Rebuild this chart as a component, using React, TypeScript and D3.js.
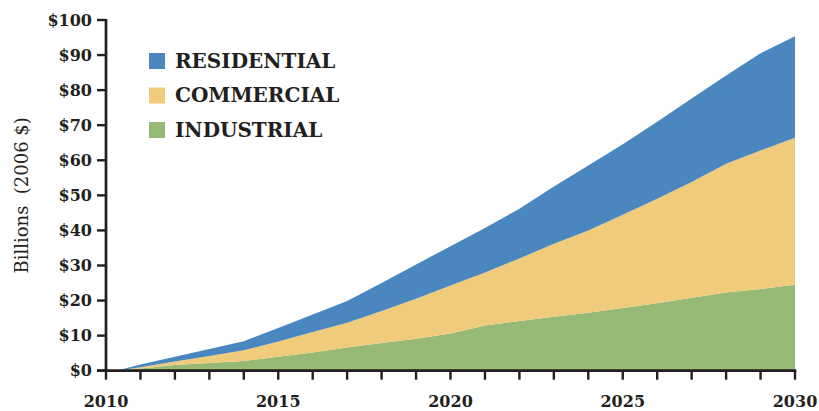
import * as d3 from 'd3';
import { useEffect } from 'react';

// Years along the x axis (the curves start a little after 2010)
const years = [2010.3, 2011, 2012, 2013, 2014, 2015, 2016, 2017, 2018, 2019, 2020, 2021, 2022, 2023, 2024, 2025, 2026, 2027, 2028, 2029, 2030];

// Billions (2006 $)
const industrial = [0, 0.6, 1.6, 2.2, 2.8, 4.0, 5.2, 6.6, 7.9, 9.1, 10.6, 12.9, 14.2, 15.4, 16.5, 17.9, 19.2, 20.8, 22.3, 23.3, 24.5];
const commercial = [0, 0.4, 1.0, 2.0, 3.0, 4.3, 5.8, 7.1, 9.1, 11.4, 13.7, 15.1, 17.8, 20.8, 23.5, 26.6, 29.8, 33.0, 36.7, 39.5, 41.9];
const residential = [0, 0.8, 1.4, 2.0, 2.6, 3.9, 5.0, 6.2, 8.0, 9.8, 11.2, 12.7, 14.2, 16.3, 18.5, 20.1, 22.0, 23.8, 25.2, 27.7, 29.0];

const seriesKeys = ['industrial', 'commercial', 'residential'];
const legendLabels = ['RESIDENTIAL', 'COMMERCIAL', 'INDUSTRIAL'];
const yTicks = [0, 10, 20, 30, 40, 50, 60, 70, 80, 90, 100];
const xLabelTicks = [2010, 2015, 2020, 2025, 2030];

const colors: Record<string, string> = {
  residential: '#4a87be',
  commercial: '#f0cb7b',
  industrial: '#96b976',
};

const W = 819;
const H = 411;
const margin = { left: 106, right: 24, top: 20, bottom: 40 };
const ink = '#231f20';
const serif = "'DejaVu Serif', serif";

export default function App() {
  useEffect(() => {
    document.body.style.margin = '0';
  }, []);

  const x = d3.scaleLinear().domain([2010, 2030]).range([margin.left, W - margin.right]);
  const y = d3.scaleLinear().domain([0, 100]).range([H - margin.bottom - 0.3, margin.top]);

  const rows = years.map((yr, i) => ({
    year: yr,
    industrial: industrial[i],
    commercial: commercial[i],
    residential: residential[i],
  }));
  const stacked = d3.stack<any>().keys(seriesKeys)(rows);
  const area = d3
    .area<any>()
    .x((d) => x(d.data.year))
    .y0((d) => y(d[0]))
    .y1((d) => y(d[1]))
    .curve(d3.curveLinear);

  const allYears = d3.range(2010, 2031);
  const y0 = y(0);

  return (
    <svg width={W} height={H} style={{ display: 'block' }}>
      {stacked.map((s) => (
        <path key={s.key} d={area(s) ?? ''} fill={colors[s.key]} />
      ))}

      {/* y axis */}
      <line x1={x(2010)} x2={x(2010)} y1={y(100) - 1} y2={y0 + 1.3} stroke={ink} strokeWidth={2.7} />
      {yTicks.map((t) => (
        <g key={t}>
          <line x1={x(2010) - 9} x2={x(2010)} y1={y(t)} y2={y(t)} stroke={ink} strokeWidth={2.4} />
          <text
            x={x(2010) - 14}
            y={y(t)}
            dy="0.35em"
            textAnchor="end"
            fontFamily={serif}
            fontWeight="bold"
            fontSize={16}
            fill={ink}
          >
            {`$${t}`}
          </text>
        </g>
      ))}

      {/* x axis */}
      <line x1={x(2010) - 9} x2={x(2030) + 1.3} y1={y0} y2={y0} stroke={ink} strokeWidth={2.7} />
      {allYears.map((yr) => (
        <line key={yr} x1={x(yr)} x2={x(yr)} y1={y0} y2={y0 + 9} stroke={ink} strokeWidth={2.4} />
      ))}
      {xLabelTicks.map((yr) => (
        <text
          key={yr}
          x={x(yr)}
          y={407}
          textAnchor="middle"
          fontFamily={serif}
          fontWeight="bold"
          fontSize={16}
          fill={ink}
        >
          {yr}
        </text>
      ))}

      {/* y axis title */}
      <text
        transform={`translate(28,${y(50)}) rotate(-90)`}
        textAnchor="middle"
        fontFamily={serif}
        fontSize={18}
        fill={ink}
        style={{ whiteSpace: 'pre' }}
      >
        {'Billions  (2006 $)'}
      </text>

      {/* legend */}
      {legendLabels.map((label, i) => (
        <g key={label} transform={`translate(149,${53 + i * 34.5})`}>
          <rect width={16} height={16} fill={colors[label.toLowerCase()]} />
          <text x={26} y={14.5} fontFamily={serif} fontWeight="bold" fontSize={20} fill={ink}>
            {label}
          </text>
        </g>
      ))}
    </svg>
  );
}
